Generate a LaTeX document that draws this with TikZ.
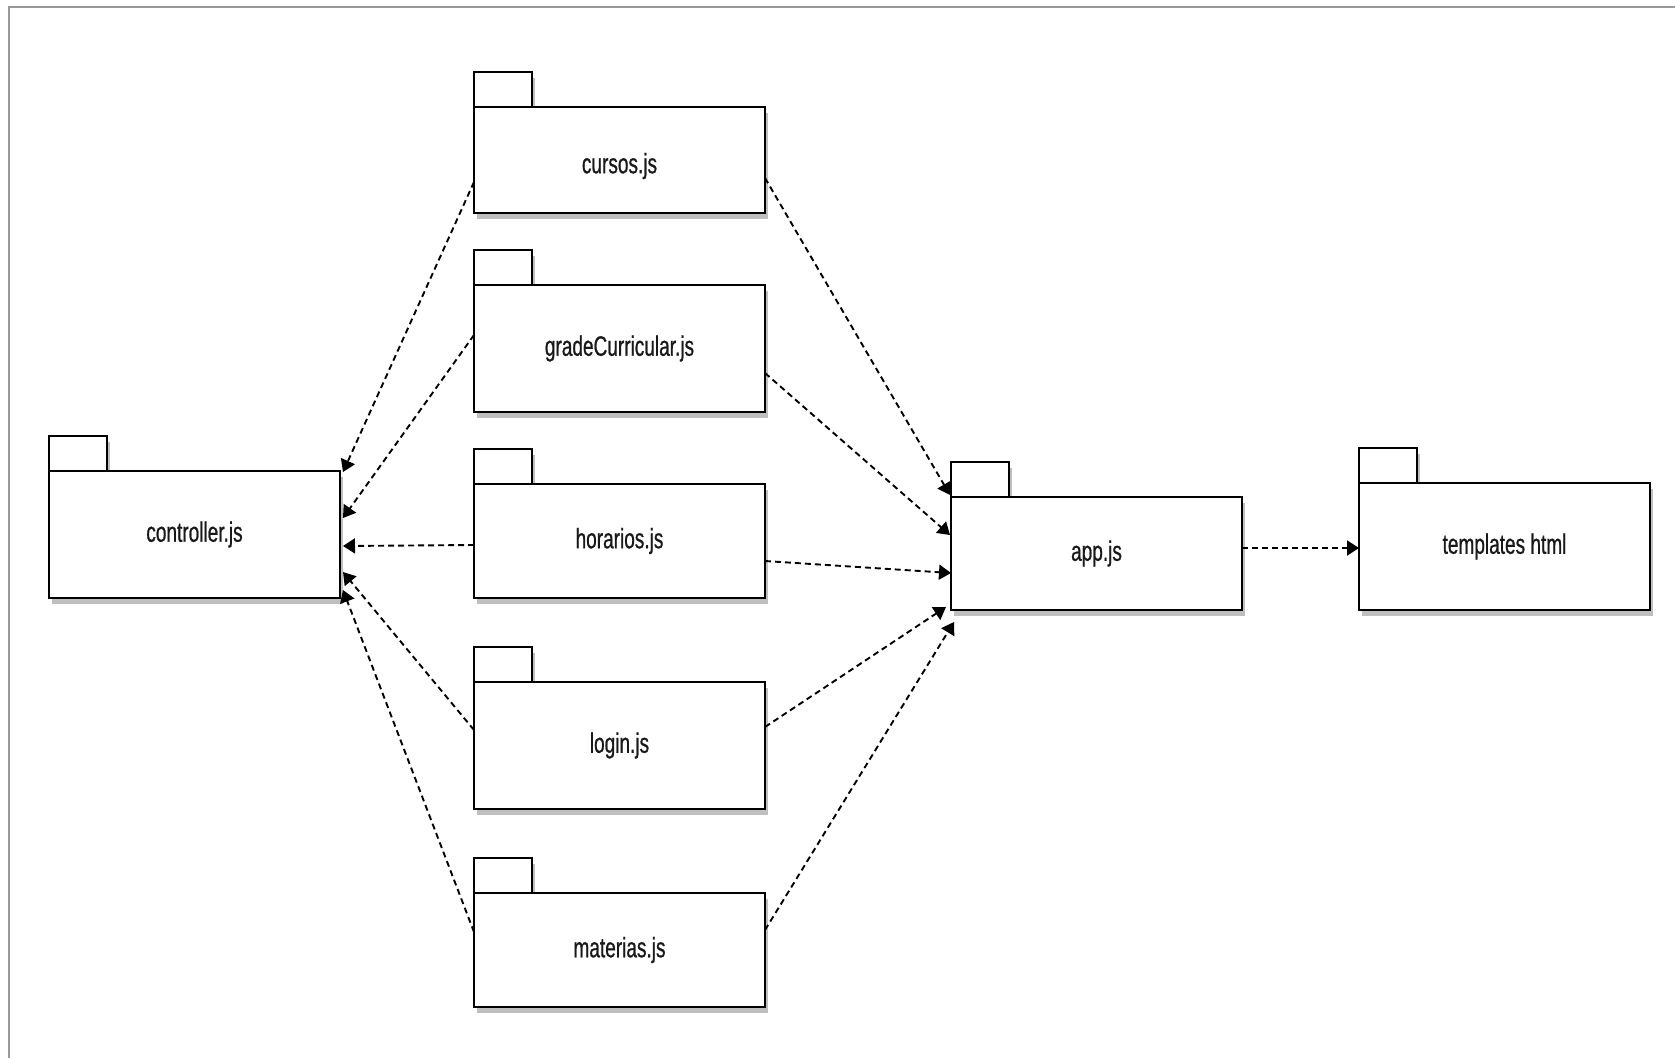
\documentclass[tikz,border=0pt]{standalone}
\usepackage{fontspec}
\setmainfont{Liberation Sans}[FakeStretch=0.68,FakeBold=0.7]
\usetikzlibrary{shadows,arrows.meta,calc}
\begin{document}
\begin{tikzpicture}[x=1pt,y=-1pt,
  pkgbody/.style={draw=black,line width=2pt,fill=white,minimum width=291pt,inner sep=0pt,outer sep=0pt,
    anchor=north west,font=\fontsize{28}{34}\selectfont,text=black!90,
    drop shadow={shadow xshift=3pt,shadow yshift=-6pt,fill=black!25,opacity=1}},
  pkgtab/.style={draw=black,line width=2pt,fill=white,minimum width=58pt,minimum height=35pt,
    inner sep=0pt,outer sep=0pt,anchor=south west,
    drop shadow={shadow xshift=3pt,shadow yshift=-6pt,fill=black!25,opacity=1}},
  dep/.style={line width=1.9pt,dash pattern=on 6pt off 4pt,-{Triangle[length=12pt,width=15pt]}},
  framestyle/.style={draw=black!40,line width=2pt}]
\useasboundingbox (0,0) rectangle (1675,1058);
\draw[framestyle] (9,1058) -- (9,7) -- (1675,7);

% packages
\node[pkgtab] (ctrltab) at (49,471) {};
\node[pkgbody,minimum height=127pt] (ctrl) at (49,471) {controller.js};

\node[pkgtab] (cursostab) at (474,107) {};
\node[pkgbody,minimum height=106pt] (cursos) at (474,107) {\raisebox{-6pt}[\height][\depth]{cursos.js}};

\node[pkgtab] (gradetab) at (474,285) {};
\node[pkgbody,minimum height=127pt] (grade) at (474,285) {gradeCurricular.js};

\node[pkgtab] (horariostab) at (474,484) {};
\node[pkgbody,minimum height=114pt] (horarios) at (474,484) {horarios.js};

\node[pkgtab] (logintab) at (474,682) {};
\node[pkgbody,minimum height=127pt] (login) at (474,682) {login.js};

\node[pkgtab] (materiastab) at (474,893) {};
\node[pkgbody,minimum height=114pt] (materias) at (474,893) {materias.js};

\node[pkgtab] (apptab) at (951,497) {};
\node[pkgbody,minimum height=113pt] (app) at (951,497) {app.js};

\node[pkgtab] (templtab) at (1359,483) {};
\node[pkgbody,minimum height=127pt] (templ) at (1359,483) {templates html};

% connectors to controller
\draw[dep] ($(cursos.north west)+(0,75)$) -- ($(ctrl.north east)+(3,1)$);
\draw[dep] ($(grade.north west)+(0,50)$) -- ($(ctrl.north east)+(3,47)$);
\draw[dep] ($(horarios.north west)+(0,61)$) -- ($(ctrl.north east)+(3,75)$);
\draw[dep] ($(login.north west)+(0,48)$) -- ($(ctrl.north east)+(3,101)$);
\draw[dep] ($(materias.north west)+(0,39)$) -- ($(ctrl.north east)+(3,119)$);

% connectors to app
\draw[dep] ($(cursos.north east)+(0,71)$) -- ($(app.north west)+(-1,-2)$);
\draw[dep] ($(grade.north east)+(0,88)$) -- ($(app.north west)+(-1,38)$);
\draw[dep] ($(horarios.north east)+(0,77)$) -- ($(app.north west)+(0,76)$);
\draw[dep] ($(login.north east)+(0,45)$) -- ($(app.north west)+(-5,110)$);
\draw[dep] ($(materias.north east)+(0,37)$) -- ($(app.north west)+(3,125)$);

% app to templates
\draw[dep] ($(app.north east)+(0,51)$) -- ($(templ.north west)+(0,65)$);
\end{tikzpicture}
\end{document}
